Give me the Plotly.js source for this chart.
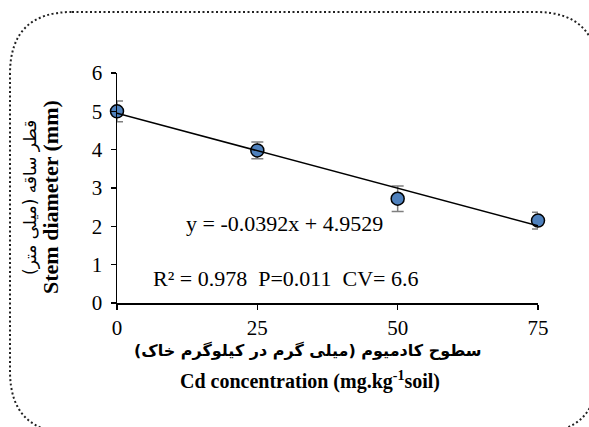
<!DOCTYPE html>
<html>
<head>
<meta charset="utf-8">
<script src="https://cdn.plot.ly/plotly-3.0.1.min.js"></script>
<style>
  html, body { margin: 0; padding: 0; background: #ffffff; }
  #chart { width: 589px; height: 427px; }
</style>
</head>
<body>
<div id="chart"></div>
<script>
// ---- data ----
const cdLevels   = [0, 25, 50, 75];            // Cd concentration (mg.kg-1 soil)
const stemDiam   = [5.00, 3.98, 2.72, 2.15];   // stem diameter (mm)
const stemErr    = [0.27, 0.22, 0.33, 0.22];   // error bar half-length
const xTickVals  = [0, 25, 50, 75];
const yTickVals  = [0, 1, 2, 3, 4, 5, 6];
const trendSlope = -0.0392;                    // from printed equation
const trendIntercept = 4.9529;
const trendX = [0, 75];
const trendY = trendX.map(v => trendSlope * v + trendIntercept);

const eqText   = 'y = -0.0392x + 4.9529';
const statText = 'R² = 0.978  P=0.011  CV= 6.6';
const xTitleFa = 'سطوح کادمیوم (میلی گرم در کیلوگرم خاک)';
const xTitleEn = 'Cd concentration (mg.kg<sup>-1</sup>soil)';
const yTitleFa = 'قطر ساقه (میلی متر)';
const yTitleEn = 'Stem diameter (mm)';

const serif = 'Liberation Serif, Times New Roman, serif';
const faFont = 'DejaVu Sans, sans-serif';

// plot area pixel geometry (for converting frame to paper coords)
const L = 117, R = 51, T = 73, B = 124, W = 589, H = 427;
const pw = W - L - R, ph = H - T - B;
const px = v => (v - L) / pw;
const py = v => (H - B - v) / ph;

// rounded dotted frame
const fl = 10, ft = 12, fr = 598, fb = 433, rad = 62;
const rx = rad / pw, ry = rad / ph;
const Lp = px(fl), Rp = px(fr), Tp = py(ft), Bp = py(fb);
const framePath =
  `M ${Lp + rx},${Tp} L ${Rp - rx},${Tp} Q ${Rp},${Tp} ${Rp},${Tp - ry} ` +
  `L ${Rp},${Bp + ry} Q ${Rp},${Bp} ${Rp - rx},${Bp} ` +
  `L ${Lp + rx},${Bp} Q ${Lp},${Bp} ${Lp},${Bp + ry} ` +
  `L ${Lp},${Tp - ry} Q ${Lp},${Tp} ${Lp + rx},${Tp} Z`;

const traces = [
  {
    x: cdLevels, y: stemDiam, type: 'scatter', mode: 'markers',
    marker: { size: 13, color: '#4F81BD', line: { color: '#000000', width: 1.5 } },
    error_y: { type: 'data', array: stemErr, visible: true, color: '#7f7f7f', thickness: 1.5, width: 6 },
    cliponaxis: false, hoverinfo: 'x+y'
  },
  {
    x: trendX, y: trendY, type: 'scatter', mode: 'lines',
    line: { color: '#000000', width: 1.5 }, cliponaxis: false, hoverinfo: 'skip'
  }
];

const layout = {
  width: W, height: H,
  margin: { l: L, r: R, t: T, b: B, pad: 0 },
  paper_bgcolor: '#ffffff', plot_bgcolor: '#ffffff',
  showlegend: false,
  font: { family: serif, color: '#000000' },
  xaxis: {
    range: [0, 75], tickvals: xTickVals, ticktext: xTickVals.map(String),
    showgrid: false, zeroline: false, showline: true, linecolor: '#000000', linewidth: 1.5,
    ticks: 'outside', ticklen: 5, tickwidth: 1.5, tickcolor: '#000000',
    tickfont: { family: serif, size: 21, color: '#000000' }, fixedrange: true
  },
  yaxis: {
    range: [0, 6], tickvals: yTickVals, ticktext: yTickVals.map(String),
    showgrid: false, zeroline: false, showline: true, linecolor: '#000000', linewidth: 1.5,
    ticks: 'outside', ticklen: 5, tickwidth: 1.5, tickcolor: '#000000', ticklabelstandoff: 4,
    tickfont: { family: serif, size: 21, color: '#000000' }, fixedrange: true
  },
  shapes: [
    { type: 'path', xref: 'paper', yref: 'paper', path: framePath,
      line: { color: '#222222', width: 2, dash: '2px,2.5px' }, fillcolor: 'rgba(0,0,0,0)', layer: 'below' }
  ],
  annotations: [
    { text: eqText, xref: 'paper', yref: 'paper', x: px(284), y: py(223), showarrow: false,
      xanchor: 'center', yanchor: 'middle', font: { family: serif, size: 22, color: '#000000' } },
    { text: statText, xref: 'paper', yref: 'paper', x: px(285), y: py(278), showarrow: false,
      xanchor: 'center', yanchor: 'middle', font: { family: serif, size: 22, color: '#000000' } },
    { text: '<b>' + xTitleFa + '</b>', xref: 'paper', yref: 'paper', x: px(308), y: py(350), showarrow: false,
      xanchor: 'center', yanchor: 'middle', font: { family: faFont, size: 16, color: '#000000' } },
    { text: '<b>' + xTitleEn + '</b>', xref: 'paper', yref: 'paper', x: px(310), y: py(380), showarrow: false,
      xanchor: 'center', yanchor: 'middle', font: { family: serif, size: 20, color: '#000000' } },
    { text: yTitleFa, xref: 'paper', yref: 'paper', x: px(30), y: py(198), showarrow: false, textangle: -90,
      xanchor: 'center', yanchor: 'middle', font: { family: faFont, size: 17, color: '#000000' } },
    { text: '<b>' + yTitleEn + '</b>', xref: 'paper', yref: 'paper', x: px(50), y: py(197), showarrow: false, textangle: -90,
      xanchor: 'center', yanchor: 'middle', font: { family: serif, size: 22, color: '#000000' } }
  ]
};

Plotly.newPlot('chart', traces, layout, { staticPlot: true, displayModeBar: false });
</script>
</body>
</html>
